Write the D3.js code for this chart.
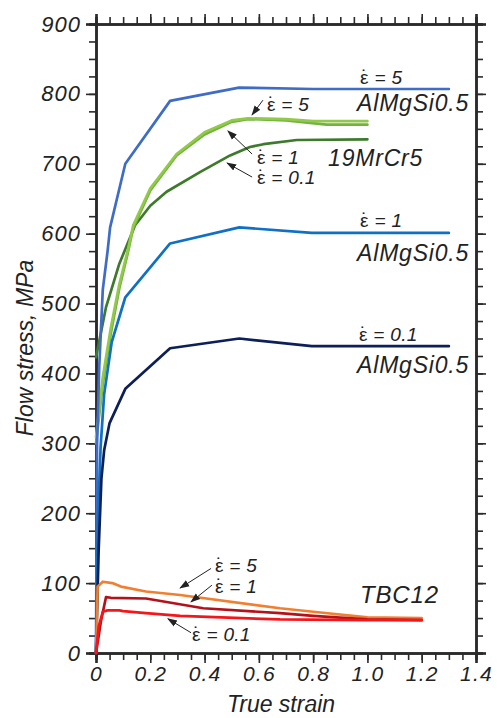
<!DOCTYPE html>
<html><head>
<meta charset="utf-8">
<script src="https://d3js.org/d3.v7.min.js"></script>
<style>
  body { margin: 0; background: #fff; }
  text { font-family: "Liberation Sans", Arial, sans-serif; font-style: italic; fill: #222; }
  .curve { fill: none; stroke-width: 2.7px; stroke-linejoin: round; stroke-linecap: round; }
  .axis path, .axis line { stroke: #2a2a2a; }
  .axis path { stroke-width: 2.5px; }
  .axis line { stroke-width: 1.6px; }
</style>
</head>
<body>
<svg id="chart" width="497" height="718"></svg>
<script>

// ---- data: [true strain, flow stress MPa] ----
const alMgSi_5   = [[0,0],[0.004,300],[0.012,410],[0.025,520],[0.043,576],[0.052,609],[0.108,700],[0.273,790],[0.527,809],[0.8,807],[1.3,807]];
const alMgSi_1   = [[0,0],[0.008,200],[0.017,295],[0.03,370],[0.058,445],[0.108,509],[0.273,586],[0.528,609],[0.795,601],[1.3,601]];
const alMgSi_01  = [[0,0],[0.01,150],[0.02,250],[0.03,290],[0.05,329],[0.108,378],[0.273,436],[0.528,450],[0.795,439],[1.3,439]];

const mrCr_5     = [[0,309],[0.025,395],[0.055,466],[0.086,528],[0.117,576],[0.137,612],[0.2,665],[0.297,714],[0.4,745],[0.5,762],[0.56,765],[0.7,764],[0.8,761],[1.0,761]];
const mrCr_1     = [[0,300],[0.025,385],[0.055,458],[0.086,522],[0.117,572],[0.137,608],[0.2,662],[0.297,712],[0.4,742],[0.5,760],[0.56,764],[0.7,762],[0.85,756],[1.0,756]];
const mrCr_01    = [[0,423],[0.037,495],[0.086,557],[0.144,612],[0.2,640],[0.26,660],[0.383,688],[0.494,712],[0.567,724],[0.617,728],[0.74,734],[1.0,735]];

const tbc_5      = [[0,0],[0.006,95],[0.025,102],[0.06,100],[0.092,95],[0.184,88],[0.31,83],[0.678,64],[0.8,59],[1.0,51],[1.2,50]];
const tbc_1      = [[0,0],[0.018,45],[0.037,80],[0.055,79],[0.184,78],[0.26,73],[0.395,64],[0.678,57],[0.8,53],[1.0,48],[1.2,47]];
const tbc_01     = [[0,0],[0.01,38],[0.025,59],[0.042,61],[0.086,61],[0.1,60],[0.184,57],[0.31,53],[0.678,48],[1.0,47],[1.2,47]];

const xMajorTicks = [0, 0.2, 0.4, 0.6, 0.8, 1.0, 1.2, 1.4];
const xTickLabels = ["0", "0.2", "0.4", "0.6", "0.8", "1.0", "1.2", "1.4"];
const yMajorTicks = [0, 100, 200, 300, 400, 500, 600, 700, 800, 900];

const series = [
  { pts: mrCr_01,   color: "#3d7a2c" },
  { pts: mrCr_1,    color: "#6fb43f" },
  { pts: mrCr_5,    color: "#93c94a" },
  { pts: alMgSi_5,  color: "#3f6cc6" },
  { pts: alMgSi_1,  color: "#0f70c4" },
  { pts: alMgSi_01, color: "#0c1f58" },
  { pts: tbc_5,     color: "#f08030" },
  { pts: tbc_1,     color: "#b3121a" },
  { pts: tbc_01,    color: "#f5161b" }
];

const svg = d3.select("#chart");
const margin = { top: 24, right: 21, bottom: 65, left: 96 };
const w = 497 - margin.left - margin.right;
const h = 718 - margin.top - margin.bottom;
const g = svg.append("g").attr("transform", "translate(" + margin.left + "," + margin.top + ")");

const x = d3.scaleLinear().domain([0, 1.4]).range([0, w]);
const y = d3.scaleLinear().domain([0, 900]).range([h, 0]);

// minor ticks first, then major ones with labels
const xMinor = d3.range(0, 1.4001, 0.05);
const yMinor = d3.range(0, 900.1, 25);

function minor(axis) { return axis.tickSize(7).tickFormat(""); }

g.append("g").attr("class", "axis").attr("transform", "translate(0," + h + ")")
  .call(minor(d3.axisBottom(x).tickValues(xMinor)));
g.append("g").attr("class", "axis").call(minor(d3.axisTop(x).tickValues(xMinor)));
g.append("g").attr("class", "axis").call(minor(d3.axisLeft(y).tickValues(yMinor)));
g.append("g").attr("class", "axis").attr("transform", "translate(" + w + ",0)")
  .call(minor(d3.axisRight(y).tickValues(yMinor)));

const xAx = g.append("g").attr("class", "axis").attr("transform", "translate(0," + h + ")")
  .call(d3.axisBottom(x).tickValues(xMajorTicks).tickSize(10).tickPadding(3)
    .tickFormat((d, i) => xTickLabels[i]));
g.append("g").attr("class", "axis").call(d3.axisTop(x).tickValues(xMajorTicks).tickSize(10).tickFormat(""));
const yAx = g.append("g").attr("class", "axis")
  .call(d3.axisLeft(y).tickValues(yMajorTicks).tickSize(10).tickPadding(5));
g.append("g").attr("class", "axis").attr("transform", "translate(" + w + ",0)")
  .call(d3.axisRight(y).tickValues(yMajorTicks).tickSize(10).tickFormat(""));

xAx.selectAll("text").style("font-size", "21px").style("letter-spacing", "1.2px")
  .style("font-family", '"Liberation Sans", Arial, sans-serif').attr("fill", "#2a2a2a");
yAx.selectAll("text").style("font-size", "22px").style("letter-spacing", "1px")
  .style("font-family", '"Liberation Sans", Arial, sans-serif').attr("fill", "#2a2a2a");

// curves
const line = d3.line().x(d => x(d[0])).y(d => y(d[1]));
g.selectAll("path.curve").data(series).join("path")
  .attr("class", "curve")
  .attr("stroke", d => d.color)
  .attr("d", d => line(d.pts));

// axis titles
svg.append("text").attr("x", 281).attr("y", 712).attr("text-anchor", "middle")
  .style("font-size", "23px").text("True strain");
svg.append("text").attr("transform", "translate(33,348) rotate(-90)").attr("text-anchor", "middle")
  .style("font-size", "23px").text("Flow stress, MPa");

// annotations, placed in data units; rate labels get an upright ε with a dot
const notes = [
  { rate: "5",   s: 0.973, v: 814 },
  { t: "AlMgSi0.5", s: 0.962, v: 776 },
  { rate: "5",   s: 0.630, v: 776 },
  { rate: "1",   s: 0.593, v: 700 },
  { rate: "0.1", s: 0.593, v: 671 },
  { t: "19MrCr5",   s: 0.855, v: 697 },
  { rate: "1",   s: 0.973, v: 609 },
  { t: "AlMgSi0.5", s: 0.962, v: 561 },
  { rate: "0.1", s: 0.969, v: 447 },
  { t: "AlMgSi0.5", s: 0.962, v: 401 },
  { t: "TBC12",     s: 0.973, v: 71, size: 24 },
  { rate: "5",   s: 0.438, v: 116 },
  { rate: "1",   s: 0.438, v: 86 },
  { rate: "0.1", s: 0.354, v: 17 }
];
const noteSel = g.selectAll("text.note").data(notes).join("text")
  .attr("class", "note")
  .attr("x", d => x(d.s)).attr("y", d => y(d.v))
  .style("font-size", d => d.rate ? "19px" : (d.size || 23) + "px")
  .style("letter-spacing", d => d.rate ? "0.3px" : "0.8px");

noteSel.filter(d => !d.rate).text(d => d.t);
noteSel.filter(d => d.rate).each(function(d) {
  const t = d3.select(this);
  const eps = t.append("tspan").style("font-style", "normal").text("ε");
  const dot = t.append("tspan").style("font-style", "normal").text("\u02D9");
  const rest = t.append("tspan").text(" = " + d.rate);
  // put the dot centred over the epsilon, then step back to the end of it
  const ew = eps.node().getComputedTextLength();
  const dw = dot.node().getComputedTextLength();
  dot.attr("dx", -(ew + dw) / 2).attr("dy", -1);
  rest.attr("dx", (ew - dw) / 2).attr("dy", 1);
});

const arrows = [
  [[0.615, 791], [0.575, 770]],
  [[0.575, 714], [0.486, 747]],
  [[0.575, 681], [0.483, 701]],
  [[0.424, 121], [0.310, 93]],
  [[0.427, 97],  [0.350, 73]],
  [[0.350, 29],  [0.265, 49]]
];
svg.append("defs").append("marker")
  .attr("id", "head").attr("viewBox", "0 0 10 10").attr("refX", 9).attr("refY", 5)
  .attr("markerWidth", 10).attr("markerHeight", 10).attr("markerUnits", "userSpaceOnUse")
  .attr("orient", "auto")
  .append("path").attr("d", "M0,1.5 L10,5 L0,8.5 Z").attr("fill", "#222");
g.selectAll("line.arrow").data(arrows).join("line")
  .attr("class", "arrow")
  .attr("x1", d => x(d[0][0])).attr("y1", d => y(d[0][1]))
  .attr("x2", d => x(d[1][0])).attr("y2", d => y(d[1][1]))
  .attr("stroke", "#222").attr("stroke-width", 1)
  .attr("marker-end", "url(#head)");

</script>
</body>
</html>
